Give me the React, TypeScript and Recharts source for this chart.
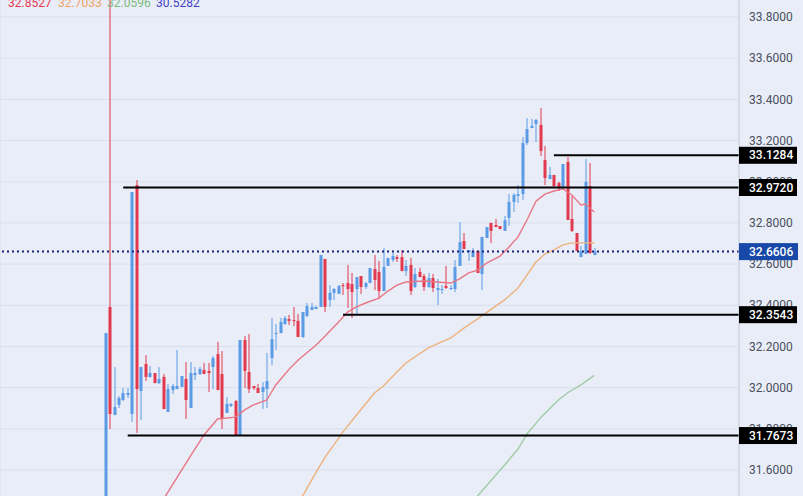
import React from 'react';
import { ComposedChart, Bar, Line, XAxis, YAxis, CartesianGrid, ReferenceLine } from 'recharts';

const opens = [31.40,32.392,31.867,31.916,31.940,31.964,31.872,32.984,31.984,32.115,32.052,32.071,32.022,32.052,31.882,31.988,31.993,32.003,32.042,31.901,32.061,32.066,32.086,32.081,32.100,32.163,32.066,31.877,31.911,31.935,31.770,32.231,32.076,32.008,31.998,31.979,31.993,32.144,32.260,32.265,32.309,32.333,32.328,32.324,32.246,32.348,32.377,32.382,32.392,32.625,32.426,32.460,32.455,32.498,32.508,32.503,32.479,32.542,32.489,32.508,32.576,32.562,32.469,32.591,32.620,32.634,32.634,32.566,32.596,32.489,32.562,32.542,32.489,32.532,32.474,32.474,32.494,32.479,32.479,32.591,32.712,32.659,32.634,32.664,32.552,32.727,32.800,32.790,32.785,32.761,32.824,32.902,32.931,32.940,33.188,33.261,33.280,33.276,33.106,33.013,33.033,32.994,32.970,33.096,32.819,32.751,32.634,32.649,32.979,32.644];
const highs = [32.265,33.90,32.100,31.959,31.998,31.998,32.950,33.008,32.100,32.158,32.105,32.071,32.100,32.066,32.018,32.018,32.183,32.056,32.124,32.124,32.100,32.100,32.120,32.120,32.154,32.222,32.178,31.954,31.925,31.940,32.231,32.251,32.260,32.008,32.018,32.027,32.168,32.338,32.309,32.338,32.348,32.353,32.392,32.358,32.367,32.411,32.411,32.396,32.644,32.625,32.498,32.484,32.498,32.508,32.596,32.557,32.537,32.542,32.513,32.581,32.644,32.615,32.678,32.630,32.654,32.644,32.668,32.620,32.630,32.581,32.581,32.552,32.557,32.552,32.528,32.498,32.591,32.498,32.620,32.804,32.751,32.668,32.678,32.664,32.732,32.780,32.800,32.819,32.785,32.834,32.940,32.945,32.984,33.217,33.309,33.305,33.305,33.358,33.174,33.072,33.033,32.999,33.086,33.120,32.931,32.751,32.688,33.110,33.091,32.678];
const lows = [31.40,31.799,31.867,31.901,31.935,31.950,31.833,31.780,31.843,32.032,32.047,32.022,32.018,31.896,31.882,31.969,31.993,32.003,31.848,31.901,32.037,32.061,32.066,31.979,31.993,31.988,31.799,31.877,31.906,31.770,31.770,31.998,31.974,31.988,31.974,31.896,31.901,32.110,32.183,32.265,32.304,32.304,32.299,32.246,32.241,32.343,32.377,32.382,32.392,32.367,32.392,32.426,32.455,32.450,32.387,32.338,32.358,32.455,32.479,32.508,32.474,32.430,32.469,32.591,32.610,32.610,32.566,32.542,32.450,32.484,32.537,32.469,32.484,32.464,32.401,32.455,32.479,32.474,32.464,32.591,32.673,32.615,32.634,32.557,32.474,32.727,32.702,32.780,32.770,32.761,32.785,32.853,32.897,32.911,33.178,33.261,33.193,33.125,32.984,33.013,32.974,32.955,32.960,32.814,32.756,32.664,32.634,32.649,32.649,32.644];
const closes = [32.265,31.872,31.906,31.950,31.974,31.974,32.950,31.993,32.100,32.052,32.071,32.022,32.042,31.896,31.993,32.008,32.008,32.056,31.940,32.071,32.071,32.091,32.066,32.071,32.144,31.988,31.848,31.921,31.921,31.770,32.231,32.081,31.993,31.998,31.974,32.003,32.032,32.236,32.265,32.319,32.338,32.324,32.324,32.246,32.367,32.396,32.392,32.392,32.644,32.392,32.460,32.479,32.494,32.494,32.479,32.464,32.537,32.489,32.508,32.581,32.523,32.469,32.586,32.630,32.639,32.625,32.566,32.591,32.469,32.552,32.537,32.489,32.532,32.484,32.484,32.479,32.484,32.484,32.586,32.707,32.673,32.668,32.664,32.557,32.732,32.780,32.761,32.780,32.770,32.814,32.902,32.936,32.940,33.188,33.256,33.271,33.300,33.149,33.018,33.033,32.979,32.970,33.086,32.814,32.761,32.664,32.664,32.999,32.654,32.6606];

const ma1Idx = [13,19,22,25,29,31,33,36,38,41,43,47,49,52,54,56,58,61,63,65,67,71,74,77,79,81,83,85,88,90,92,94,96,98,100,102,104,106,107,109];
const ma1Val = [31.459,31.668,31.770,31.848,31.857,31.891,31.916,31.940,32.013,32.090,32.134,32.207,32.251,32.319,32.367,32.392,32.411,32.435,32.469,32.498,32.513,32.518,32.513,32.508,32.528,32.557,32.571,32.605,32.639,32.683,32.732,32.814,32.906,32.940,32.955,32.965,32.936,32.887,32.892,32.8527];
const ma2Idx = [43,44,47,49,53,56,60,62,65,67,72,77,80,83,89,92,94,96,98,100,102,104,107,109];
const ma2Val = [31.440,31.474,31.590,31.663,31.785,31.867,31.974,32.008,32.076,32.120,32.193,32.241,32.290,32.334,32.426,32.484,32.547,32.610,32.649,32.669,32.693,32.703,32.703,32.7033];
const ma3Idx = [82,83,89,92,94,97,101,103,106,109];
const ma3Val = [31.449,31.474,31.624,31.702,31.775,31.853,31.940,31.974,32.013,32.0596];

const legendValues = ['32.8527', '32.7033', '32.0596', '30.5282'];
const legendColors = ['#E5384F', '#F0A35E', '#7DBB7D', '#3F3FC8'];
const legendLeft = [8, 58, 107, 156];

const axisTicks = [33.8, 33.6, 33.4, 33.2, 33.0, 32.8, 32.6, 32.4, 32.2, 32.0, 31.8, 31.6];
const gridX = [-13, 17, 47, 65, 89, 107, 137];
const levels = [33.1284, 32.972, 32.3543, 31.7673];
const levelStart = [100, 4, 53, 5];
const lastPrice = 32.6606;

const BLUE = '#5B9BE6';
const RED = '#E2394E';
const BG = '#E9EDF8';
const GRID = '#DADFEE';

const table = opens.map((o, i) => ({
  x: i,
  open: o,
  high: highs[i],
  low: lows[i],
  close: closes[i],
  range: [lows[i], highs[i]],
  ma1: ma1Idx.includes(i) ? ma1Val[ma1Idx.indexOf(i)] : null,
  ma2: ma2Idx.includes(i) ? ma2Val[ma2Idx.indexOf(i)] : null,
  ma3: ma3Idx.includes(i) ? ma3Val[ma3Idx.indexOf(i)] : null,
}));

const Candle = (props: any) => {
  const { x, y, width, height, payload } = props;
  const { open, close, high, low } = payload;
  const cx = Math.round(x + width / 2);
  const span = high - low;
  const py = (v: number) => y + ((high - v) / span) * height;
  const up = close >= open;
  const color = up ? BLUE : RED;
  const top = py(Math.max(open, close));
  const bottom = py(Math.min(open, close));
  return (
    <g>
      <line x1={cx} x2={cx} y1={y} y2={y + height} stroke={color} strokeWidth={1} />
      <rect x={cx - 1.5} y={top} width={3} height={Math.max(bottom - top, 1)} fill={color} />
    </g>
  );
};

const AxisTick = (props: any) => {
  const { x, y, payload } = props;
  const v = payload.value;
  const isLevel = levels.includes(v);
  const isLast = v === lastPrice;
  const boxed = isLevel || isLast;
  return (
    <g>
      {boxed && <rect x={x} y={y - 8.5} width={isLast ? 59 : 58} height={17} fill={isLast ? '#1848A8' : '#000000'} />}
      <text
        x={x + 10}
        y={y}
        dy="0.35em"
        fontFamily="Roboto, sans-serif"
        fontSize={12}
        fontWeight={boxed ? 500 : 400}
        fill={boxed ? '#FFFFFF' : '#4A4F5C'}
      >
        {v.toFixed(4)}
      </text>
    </g>
  );
};

export default function App() {
  return (
    <div style={{ position: 'absolute', left: 0, top: 0, width: 803, height: 496, overflow: 'hidden', background: BG }}>
      <ComposedChart width={803} height={496} data={table} margin={{ top: 0, right: 0, bottom: 0, left: 0 }}>
        <CartesianGrid stroke={GRID} strokeWidth={1} horizontalValues={axisTicks} />
        <XAxis
          dataKey="x"
          type="number"
          domain={[-23.47, 141.26]}
          allowDataOverflow
          ticks={gridX}
          tick={false}
          tickLine={false}
          axisLine={false}
          height={0}
        />
        <YAxis
          orientation="right"
          width={64}
          type="number"
          domain={[31.4737, 33.8826]}
          allowDataOverflow
          ticks={[...axisTicks, lastPrice, ...levels]}
          interval={0}
          tick={<AxisTick />}
          tickSize={0}
          tickMargin={0}
          tickLine={false}
          axisLine={{ stroke: '#C9CEDC' }}
        />
        <Bar dataKey="range" barSize={3} isAnimationActive={false} shape={<Candle />} />
        <Line dataKey="ma1" stroke="#E87684" strokeWidth={1.4} dot={false} connectNulls isAnimationActive={false} />
        <Line dataKey="ma2" stroke="#EDB27E" strokeWidth={1.4} dot={false} connectNulls isAnimationActive={false} />
        <Line dataKey="ma3" stroke="#A0CBA6" strokeWidth={1.4} dot={false} connectNulls isAnimationActive={false} />
        <ReferenceLine y={lastPrice} stroke="#1A237E" strokeWidth={2} strokeDasharray="2 3" />
        {levels.map((v, i) => (
          <ReferenceLine
            key={v}
            stroke="#000000"
            strokeWidth={2}
            segment={[{ x: levelStart[i], y: v }, { x: 141.26, y: v }]}
          />
        ))}
      </ComposedChart>
      {legendValues.map((t, i) => (
        <span
          key={t}
          style={{ position: 'absolute', left: legendLeft[i], top: -4, fontFamily: 'Roboto, sans-serif', fontSize: 12, lineHeight: '14px', color: legendColors[i] }}
        >
          {t}
        </span>
      ))}
    </div>
  );
}
